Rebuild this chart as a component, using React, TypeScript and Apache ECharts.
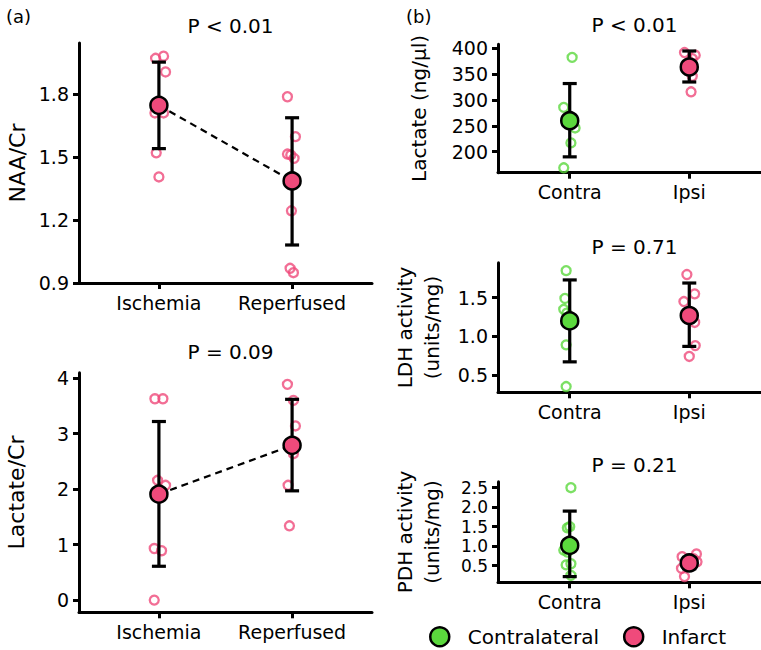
import React, { useEffect, useRef } from "react";
import * as echarts from "echarts";

const PINK = "#EF4A7B";
const GREEN = "#5BD83D";
const FONT = "DejaVu Sans";

// ---------- Panel (a) ----------
const catsA = ["Ischemia", "Reperfused"];
// NAA/Cr
const naaIsch = [1.97, 1.98, 1.905, 1.71, 1.71, 1.52, 1.405];
const naaIschJit = [-0.025, 0.035, 0.05, -0.03, 0.035, -0.02, 0];
const naaRep = [1.787, 1.597, 1.514, 1.51, 1.494, 1.244, 0.97, 0.949];
const naaRepJit = [-0.035, 0.025, -0.035, -0.01, 0.015, -0.005, -0.015, 0.01];
const naaMean = [1.746, 1.386];
const naaLow = [1.54, 1.081];
const naaHigh = [1.952, 1.687];
const naaTicks = [0.9, 1.2, 1.5, 1.8];
// Lactate/Cr
const lacIsch = [3.63, 3.63, 2.16, 2.07, 0.93, 0.89, 0.0];
const lacIschJit = [-0.03, 0.03, -0.01, 0.05, -0.035, 0.02, -0.035];
const lacRep = [3.89, 3.6, 3.14, 2.85, 2.64, 2.07, 1.34];
const lacRepJit = [-0.035, 0.01, 0.025, 0.025, 0.01, -0.03, -0.02];
const lacMean = [1.91, 2.79];
const lacLow = [0.61, 1.97];
const lacHigh = [3.22, 3.62];
const lacTicks = [0, 1, 2, 3, 4];

// ---------- Panel (b) ----------
const catsB = ["Contra", "Ipsi"];
// Lactate (ng/µl)
const lactContra = [382.6, 285.8, 246, 217, 168.8];
const lactContraJit = [0.02, -0.05, 0.045, 0.01, -0.05];
const lactIpsi = [392, 387, 380, 346, 316];
const lactIpsiJit = [-0.04, 0.05, 0.025, 0.025, 0.015];
const lactMean = [260, 364];
const lactLow = [190, 335];
const lactHigh = [332, 395];
const lactTicks = [200, 250, 300, 350, 400];
// LDH activity
const ldhContra = [1.85, 1.49, 1.35, 1.3, 0.89, 0.35];
const ldhContraJit = [-0.03, -0.04, -0.05, -0.025, -0.03, -0.03];
const ldhIpsi = [1.8, 1.55, 1.45, 1.18, 0.88, 0.74];
const ldhIpsiJit = [-0.02, 0.045, -0.045, 0.045, 0.05, 0];
const ldhMean = [1.2, 1.27];
const ldhLow = [0.67, 0.87];
const ldhHigh = [1.73, 1.69];
const ldhTicks = [0.5, 1.0, 1.5];
// PDH activity
const pdhContra = [2.5, 1.5, 1.47, 0.9, 0.85, 0.55, 0.52, 0.25];
const pdhContraJit = [0.01, 0, -0.02, -0.05, -0.02, 0.01, -0.03, 0.01];
const pdhIpsi = [0.8, 0.73, 0.68, 0.6, 0.43, 0.22];
const pdhIpsiJit = [0.06, -0.06, 0.035, 0.065, -0.065, -0.04];
const pdhMean = [1.02, 0.57];
const pdhLow = [0.22, 0.42];
const pdhHigh = [1.9, 0.71];
const pdhTicks = [0.5, 1.0, 1.5, 2.0, 2.5];

const legendNames = ["Contralateral", "Infarct"];

type Panel = {
  grid: any;
  yMin: number;
  yMax: number;
  ticks: number[];
  digits: number;
  tickSize: number;
  name: string;
  nameSize: number;
  nameGap: number;
  cats: string[];
  groups: { vals: number[]; jit: number[]; color: string }[];
  mean: number[];
  low: number[];
  high: number[];
  meanColors: string[];
  meanNames: string[];
  dashed: boolean;
  title: string;
  titleTop: number;
};

const panels: Panel[] = [
  {
    grid: { left: 79, top: 43, width: 293, height: 240 },
    yMin: 0.9, yMax: 2.043, ticks: naaTicks, digits: 1, tickSize: 19,
    name: "NAA/Cr", nameSize: 22, nameGap: 48,
    cats: catsA,
    groups: [
      { vals: naaIsch, jit: naaIschJit, color: PINK },
      { vals: naaRep, jit: naaRepJit, color: PINK },
    ],
    mean: naaMean, low: naaLow, high: naaHigh,
    meanColors: [PINK, PINK], meanNames: ["NAA mean", "NAA mean"],
    dashed: true, title: "P < 0.01", titleTop: 11,
  },
  {
    grid: { left: 79, top: 372.7, width: 293, height: 239.6 },
    yMin: -0.22, yMax: 4.1, ticks: lacTicks, digits: 0, tickSize: 19,
    name: "Lactate/Cr", nameSize: 22, nameGap: 49,
    cats: catsA,
    groups: [
      { vals: lacIsch, jit: lacIschJit, color: PINK },
      { vals: lacRep, jit: lacRepJit, color: PINK },
    ],
    mean: lacMean, low: lacLow, high: lacHigh,
    meanColors: [PINK, PINK], meanNames: ["Lactate/Cr mean", "Lactate/Cr mean"],
    dashed: true, title: "P = 0.09", titleTop: 337,
  },
  {
    grid: { left: 498, top: 44.3, width: 263, height: 128.4 },
    yMin: 159.3, yMax: 408, ticks: lactTicks, digits: 0, tickSize: 19,
    name: "Lactate (ng/µl)", nameSize: 20, nameGap: 66,
    cats: catsB,
    groups: [
      { vals: lactContra, jit: lactContraJit, color: GREEN },
      { vals: lactIpsi, jit: lactIpsiJit, color: PINK },
    ],
    mean: lactMean, low: lactLow, high: lactHigh,
    meanColors: [GREEN, PINK], meanNames: legendNames,
    dashed: false, title: "P < 0.01", titleTop: 10,
  },
  {
    grid: { left: 498, top: 262.7, width: 263, height: 129.6 },
    yMin: 0.276, yMax: 1.953, ticks: ldhTicks, digits: 1, tickSize: 19,
    name: "LDH activity\n(units/mg)", nameSize: 20, nameGap: 53,
    cats: catsB,
    groups: [
      { vals: ldhContra, jit: ldhContraJit, color: GREEN },
      { vals: ldhIpsi, jit: ldhIpsiJit, color: PINK },
    ],
    mean: ldhMean, low: ldhLow, high: ldhHigh,
    meanColors: [GREEN, PINK], meanNames: legendNames,
    dashed: false, title: "P = 0.71", titleTop: 232,
  },
  {
    grid: { left: 498, top: 481.7, width: 263, height: 100.6 },
    yMin: 0.074, yMax: 2.654, ticks: pdhTicks, digits: 1, tickSize: 17,
    name: "PDH activity\n(units/mg)", nameSize: 20, nameGap: 53,
    cats: catsB,
    groups: [
      { vals: pdhContra, jit: pdhContraJit, color: GREEN },
      { vals: pdhIpsi, jit: pdhIpsiJit, color: PINK },
    ],
    mean: pdhMean, low: pdhLow, high: pdhHigh,
    meanColors: [GREEN, PINK], meanNames: legendNames,
    dashed: false, title: "P = 0.21", titleTop: 450,
  },
];

const errRender = (params: any, api: any) => {
  const x = api.value(0);
  const p1 = api.coord([x, api.value(1)]);
  const p2 = api.coord([x, api.value(2)]);
  const w = 7;
  const style = { stroke: "#000", lineWidth: 3.2 };
  return {
    type: "group",
    children: [
      { type: "line", shape: { x1: p1[0], y1: p1[1], x2: p2[0], y2: p2[1] }, style },
      { type: "line", shape: { x1: p1[0] - w, y1: p1[1], x2: p1[0] + w, y2: p1[1] }, style },
      { type: "line", shape: { x1: p2[0] - w, y1: p2[1], x2: p2[0] + w, y2: p2[1] }, style },
    ],
  };
};

function buildOption() {
  const grids: any[] = [];
  const xAxes: any[] = [];
  const yAxes: any[] = [];
  const series: any[] = [];
  const titles: any[] = [];
  const axisLineStyle = { color: "#000", width: 3 };

  panels.forEach((p, i) => {
    grids.push({ ...p.grid, containLabel: false });
    xAxes.push({
      type: "value", gridIndex: i, min: -0.6, max: 1.6,
      axisLine: { show: true, onZero: false, lineStyle: axisLineStyle },
      axisTick: { show: true, customValues: [0, 1], length: 6, lineStyle: { color: "#000", width: 3 } },
      axisLabel: {
        show: true, customValues: [0, 1], margin: 10,
        formatter: (v: number) => p.cats[Math.round(v)] ?? "",
        color: "#000", fontSize: 19, fontFamily: FONT,
      },
      splitLine: { show: false },
    });
    yAxes.push({
      type: "value", gridIndex: i, min: p.yMin, max: p.yMax,
      axisLine: { show: true, onZero: false, lineStyle: axisLineStyle },
      axisTick: { show: true, customValues: p.ticks, length: 6, lineStyle: { color: "#000", width: 3 } },
      axisLabel: {
        show: true, customValues: p.ticks, margin: 10,
        formatter: (v: number) => v.toFixed(p.digits),
        color: "#000", fontSize: p.tickSize, lineHeight: p.tickSize, fontFamily: FONT,
      },
      splitLine: { show: false },
      name: p.name, nameLocation: "middle", nameGap: p.nameGap,
      nameTextStyle: { color: "#000", fontSize: p.nameSize, fontFamily: FONT, lineHeight: 27 },
    });
    titles.push({
      text: p.title, left: p.grid.left + p.grid.width / 2, top: p.titleTop, textAlign: "center",
      textStyle: { color: "#000", fontSize: 20, fontWeight: "normal", fontFamily: FONT },
    });
    p.groups.forEach((g, gi) => {
      series.push({
        type: "scatter", name: `${p.cats[gi]} points ${i}`, xAxisIndex: i, yAxisIndex: i,
        data: g.vals.map((v, k) => [gi + g.jit[k], v]),
        symbol: "circle", symbolSize: 9, z: 2, silent: true,
        itemStyle: { color: "rgba(255,255,255,0)", borderColor: g.color, borderWidth: 2.3 },
      });
    });
    if (p.dashed) {
      series.push({
        type: "line", name: `trend ${i}`, xAxisIndex: i, yAxisIndex: i,
        data: p.mean.map((m, k) => [k, m]), symbol: "none", z: 3,
        lineStyle: { color: "#000", width: 2.2, type: [7, 5] },
      });
    }
    series.push({
      type: "custom", name: `sd ${i}`, xAxisIndex: i, yAxisIndex: i, z: 4,
      renderItem: errRender,
      encode: { x: 0, y: [1, 2] },
      data: p.mean.map((_, k) => [k, p.low[k], p.high[k]]),
    });
    p.mean.forEach((m, k) => {
      series.push({
        type: "scatter", name: p.meanNames[k], xAxisIndex: i, yAxisIndex: i,
        data: [[k, m]], symbol: "circle", symbolSize: 17, z: 5,
        itemStyle: { color: p.meanColors[k], borderColor: "#000", borderWidth: 2.5, opacity: 1 },
      });
    });
  });

  titles.push({ text: "(a)", left: 1, top: 2, textStyle: { color: "#000", fontSize: 18, fontWeight: "normal", fontFamily: FONT } });
  titles.push({ text: "(b)", left: 401, top: 2, textStyle: { color: "#000", fontSize: 18, fontWeight: "normal", fontFamily: FONT } });

  return {
    animation: false,
    backgroundColor: "#fff",
    title: titles,
    grid: grids,
    xAxis: xAxes,
    yAxis: yAxes,
    legend: {
      left: 429, top: 626, padding: 0, itemWidth: 46, itemHeight: 19, itemGap: 24,
      selectedMode: false,
      textStyle: { color: "#000", fontSize: 20, lineHeight: 20, fontFamily: FONT },
      data: [
        { name: legendNames[0], icon: "circle", itemStyle: { color: GREEN, borderColor: "#000", borderWidth: 2.5 } },
        { name: legendNames[1], icon: "circle", itemStyle: { color: PINK, borderColor: "#000", borderWidth: 2.5 } },
      ],
    },
    series,
  };
}

export default function App() {
  const ref = useRef<HTMLDivElement>(null);
  useEffect(() => {
    if (!ref.current) return;
    const chart = echarts.init(ref.current, null, { renderer: "svg" });
    chart.setOption(buildOption() as any);
    return () => chart.dispose();
  }, []);
  return (
    <div
      ref={ref}
      style={{ position: "absolute", left: 0, top: 0, width: 761, height: 650, background: "#fff" }}
    />
  );
}
